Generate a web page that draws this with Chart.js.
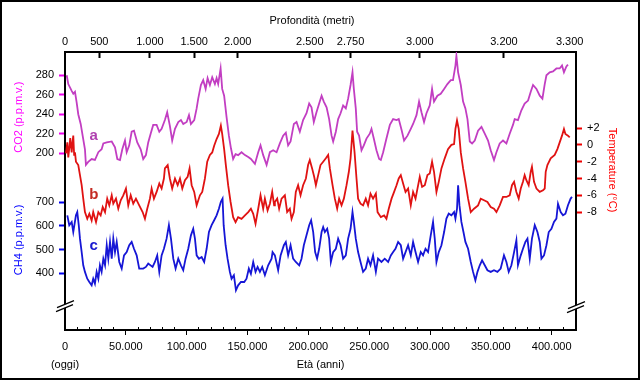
<!DOCTYPE html>
<html><head><meta charset="utf-8">
<script src="https://cdn.jsdelivr.net/npm/chart.js@4.4.1/dist/chart.umd.min.js"></script>
<style>html,body{margin:0;padding:0;background:#fff}canvas{display:block}</style>
</head><body>
<canvas id="c" width="640" height="380"></canvas>
<script>
// ---- DATA (ages in years before present) ----
const co2Age = [1400,2700,5500,6800,8200,9600,10900,12900,14500,16400,17200,19100,21900,24600,27400,30100,31500,34300,38400,41100,43000,45200,47100,49300,50700,52800,54800,56700,59400,62200,64300,66500,68400,70400,72500,75300,77500,79400,82100,84000,86200,88100,90400,93100,95300,97200,100000,101900,103500,106200,108200,109500,111700,113600,115600,117200,119100,121000,123200,124600,125900,127900,129200,130800,132800,134700,136400,138200,140200,142300,145100,147900,150600,152800,156100,158800,160700,162900,165700,168400,171100,173900,176600,179300,181500,183400,185400,188100,190300,193000,195700,198500,200700,202600,204500,206700,208900,210900,212700,215000,217100,219100,220400,222600,224500,226500,228600,230800,232700,234700,236300,237400,239000,240100,241700,243700,245600,247800,250500,251900,253800,256000,258200,259600,261500,264200,267000,269700,272500,274300,276600,278700,281500,284200,286100,288900,291000,293000,295100,297100,299800,301700,303300,306100,308800,311600,314300,317100,318900,320900,321700,323100,325300,327200,329100,330800,332700,334600,336800,339500,342300,345000,347700,349900,352600,354600,357300,360000,362800,365500,368200,369600,372300,375100,377800,380600,382800,384700,387500,390200,392400,394300,395700,398400,401100,403900,406600,408500,410100,412100,413400];
const co2Val = [280,271,264,261,263,252,240,230,218,204,188,191,194,193,201,204,210,211,212,206,194,193,204,213,201,208,222,223,211,204,194,198,211,220,229,229,222,225,234,242,228,213,225,232,234,230,232,239,230,234,246,256,270,275,266,277,270,278,271,277,271,287,266,259,237,218,205,194,199,198,201,198,196,194,189,201,208,198,188,201,203,201,210,218,221,208,212,230,232,222,234,241,251,247,232,242,251,259,253,247,235,218,212,222,235,241,249,246,256,270,283,266,246,222,218,203,208,215,220,225,215,203,194,193,201,215,229,235,234,235,224,213,218,225,230,239,253,242,232,241,249,266,253,259,261,266,271,275,275,290,300,283,270,253,246,235,212,210,213,223,227,220,213,203,193,201,210,213,210,220,229,235,234,244,251,254,263,270,266,259,256,271,280,283,284,287,287,290,283,289,291];

const tempAge = [800,1900,2700,3500,4300,5500,6100,6800,7500,8200,9000,10900,12300,13700,15000,16400,18300,20000,21900,23200,25500,27400,29300,31000,32900,34700,36400,38400,39700,41900,43800,45800,47900,50100,52000,54000,56100,58300,61000,63800,65700,67600,69800,71200,73100,75300,77500,79400,81300,82100,84400,86200,88100,90400,92600,94500,96400,98600,100800,102400,104100,106200,108200,110900,112800,115000,116900,119100,121000,122600,124600,126500,128100,129200,130800,132200,134100,136100,138200,140200,142300,145100,147900,150600,152800,154700,156600,158800,160700,162900,164300,166500,168400,170300,171900,172500,174400,176000,178000,180700,182600,184800,186200,188100,189700,191600,193600,195700,198000,199800,201200,203100,204800,206200,208100,210000,212200,214400,216300,217700,219900,221800,223700,225300,227300,229200,231400,233300,234700,236300,238000,239600,240900,242900,245000,247200,249100,251100,253200,255500,256900,259600,262300,264200,266100,268400,270500,272500,274300,276000,277900,279900,282000,284200,286100,288100,289700,291600,293500,295700,297900,299800,301700,303300,305300,307200,309400,312100,314800,317600,319800,320900,322200,323600,325300,327200,329100,331300,333500,336200,339500,341700,344400,347200,349900,352600,354600,357300,360000,362800,365500,367400,369100,371000,372900,374600,376400,377800,379200,381100,382800,383800,385500,387500,390200,392900,394300,395100,396500,399200,402500,404700,406600,408500,410100,411300,413400,414800];
const tempVal = [-1.0,0.3,-1.5,-0.4,0.8,-0.9,0.2,1.1,-1.2,-0.9,-2.0,-2.4,-3.6,-4.8,-6.4,-8.0,-8.8,-8.2,-9.0,-8.0,-9.2,-8.0,-8.4,-7.4,-8.0,-6.4,-7.2,-6.0,-7.0,-6.4,-7.6,-6.6,-6.0,-5.2,-7.2,-6.0,-7.0,-6.4,-7.2,-8.0,-8.8,-7.6,-6.4,-5.2,-6.4,-5.6,-4.6,-5.2,-4.0,-2.8,-2.4,-4.0,-5.2,-4.0,-4.8,-4.0,-5.2,-4.2,-3.8,-2.8,-4.8,-5.6,-7.2,-6.0,-5.6,-4.0,-2.0,-1.2,-0.9,-0.1,0.7,1.3,2.3,1.3,-0.5,-2.4,-4.8,-6.8,-8.6,-9.2,-8.6,-8.8,-8.4,-8.0,-7.6,-8.2,-9.4,-7.6,-6.0,-7.6,-6.4,-7.8,-7.0,-5.6,-7.2,-6.8,-6.4,-7.6,-6.4,-6.0,-8.0,-7.6,-8.8,-8.0,-5.6,-4.8,-6.0,-4.8,-4.0,-2.4,-1.8,-2.8,-3.8,-4.8,-3.6,-2.4,-2.0,-1.6,-1.2,-2.8,-4.8,-6.4,-7.6,-6.4,-7.2,-6.4,-4.8,-3.2,-1.6,1.7,-0.9,-4.0,-6.4,-7.0,-7.2,-6.4,-7.2,-5.8,-6.4,-5.8,-8.0,-8.6,-8.4,-8.8,-7.6,-6.4,-5.6,-4.8,-4.0,-3.6,-4.6,-5.6,-5.2,-7.2,-5.6,-6.4,-5.2,-3.8,-5.0,-4.8,-3.6,-3.4,-2.0,-3.2,-5.6,-4.4,-2.8,-1.6,-0.5,0.0,0.1,1.9,2.9,1.9,-0.9,-2.8,-4.4,-6.4,-8.0,-7.6,-7.2,-6.4,-6.6,-6.8,-7.4,-7.6,-8.0,-7.2,-6.2,-6.2,-6.0,-4.8,-4.4,-5.6,-6.4,-5.2,-4.4,-3.6,-4.2,-4.8,-3.2,-2.6,-4.4,-5.2,-5.6,-5.4,-5.2,-3.2,-2.4,-1.6,-1.2,-0.5,0.3,1.1,1.9,1.3,1.1,0.9];

const ch4Age = [1900,3500,5500,6800,9000,10100,11300,12300,13700,15000,16400,18300,20000,21900,23200,24600,26000,27400,28700,30100,31500,32900,34300,35600,37000,38400,39700,41100,42500,44600,46600,48500,50700,52800,54800,56700,58900,61000,64300,66500,68400,72000,73900,75800,77500,79400,81300,83500,85400,87100,89000,90900,93100,95300,97200,99100,101300,103500,105400,106800,108200,110100,112300,114400,116400,118300,120500,122600,124600,126500,128100,129500,130400,132000,133600,135500,136900,138800,140500,142300,144600,147300,149200,151100,152800,154700,156600,158300,160200,162100,164300,167000,169800,170600,172500,175200,177200,179900,181500,183400,185400,187500,189700,192500,194400,196300,198500,200700,202300,204000,205600,207200,208900,210900,212200,213600,215500,217100,218500,220400,222600,224500,226500,228600,230800,232700,234700,236300,237400,239000,240900,242900,245000,247200,249100,251100,253200,255500,257300,260100,262800,265600,267800,269700,271600,273800,276000,277900,279900,282000,284200,286100,288100,290200,292400,294300,296300,298400,300600,302500,303900,305300,307200,309400,311600,313500,315400,317600,319800,320900,322200,323100,324200,325800,327500,329100,331300,333500,335400,337300,339000,340900,342800,345000,347200,349900,352600,355400,358100,360800,362800,364700,366900,369100,371000,372300,374600,376400,378400,380100,382000,383800,386100,388300,390200,391600,393700,395700,397600,399800,401900,403900,405200,407400,409300,411300,413400,415600,416700];
const ch4Val = [645,603,617,574,645,659,603,546,489,433,405,376,362,348,376,355,405,376,433,405,461,433,518,461,532,461,546,489,532,447,419,475,489,518,532,503,475,419,419,426,440,426,447,475,405,475,503,546,603,546,461,419,461,433,412,461,503,560,588,546,475,461,468,447,503,574,603,624,645,673,702,716,603,518,461,405,376,391,327,348,362,362,376,419,397,447,405,426,405,426,391,433,461,489,475,412,475,518,532,475,518,461,447,433,461,518,560,603,624,574,489,461,503,574,595,574,588,546,447,489,503,546,518,461,475,546,588,659,617,546,489,447,405,419,461,433,475,405,461,447,461,447,475,489,503,532,518,461,489,518,475,532,489,447,489,475,503,489,560,617,546,447,489,518,574,631,652,645,659,631,673,772,688,617,574,532,503,447,405,369,405,433,454,433,412,405,412,405,419,475,447,405,433,489,539,433,475,503,532,546,461,546,603,574,532,461,475,518,574,588,617,631,694,659,645,652,688,716,723];

// ---- AXES / LABELS ----
const ageTicks = [0,50000,100000,150000,200000,250000,300000,350000,400000];
const ageMinorStep = 10000;
const depthLabels = ['0','500','1.000','1.500','2.000','2.500','2.750','3.000','3.200','3.300'];
const depthAges = [0,28200,69800,106200,141900,201200,234700,291600,360800,414800];
const co2Ticks = [200,220,240,260,280];
const ch4Ticks = [400,500,600,700];
const tempTicks = [2,0,-2,-4,-6,-8];
const seriesLetters = ['a','b','c'];
const letterAge = [23600,23600,23600];
const letterVal = [214,-6.47,497];

const FONT = '"Liberation Sans", Arial, sans-serif';
const fmtAge = v => String(v).replace(/\B(?=(\d{3})+(?!\d))/g, '.');
const pts = (a, v) => a.map((t, i) => ({x: t, y: v[i]}));
const minorTicks = [];
for (let v = ageMinorStep; v < 420000; v += ageMinorStep) if (v % 50000 !== 0) minorTicks.push(v);

function vtext(ctx, txt, x, y, rot, color) {
  ctx.save();
  ctx.translate(x, y); ctx.rotate(rot);
  ctx.fillStyle = color; ctx.textAlign = 'center'; ctx.textBaseline = 'middle';
  ctx.font = '11px ' + FONT;
  ctx.fillText(txt, 0, 0);
  ctx.restore();
}
function brk(ctx, cx, cy) {
  ctx.save();
  ctx.beginPath();
  ctx.moveTo(cx - 8, cy + 2); ctx.lineTo(cx + 9, cy - 5); ctx.lineTo(cx + 8, cy - 1); ctx.lineTo(cx - 9, cy + 6); ctx.closePath();
  ctx.fillStyle = '#fff'; ctx.fill();
  ctx.strokeStyle = '#000'; ctx.lineWidth = 1.2;
  ctx.beginPath();
  ctx.moveTo(cx - 8, cy + 2); ctx.lineTo(cx + 9, cy - 5);
  ctx.moveTo(cx - 9, cy + 6); ctx.lineTo(cx + 8, cy - 1);
  ctx.stroke();
  ctx.restore();
}

const decor = {
  id: 'decor',
  afterLayout(chart) {
    // the CH4 axis shares the left margin with the CO2 axis: widen its label area
    const s = chart.scales.yCH4;
    s.left = 0;
  },
  beforeDraw(chart) {
    const ctx = chart.ctx; ctx.save(); ctx.fillStyle = '#fff'; ctx.fillRect(0, 0, chart.width, chart.height); ctx.restore();
  },
  afterDraw(chart) {
    const ctx = chart.ctx; const s = chart.scales; const ca = chart.chartArea;
    ctx.save();
    const by = s.yCH4.getPixelForValue(262);
    brk(ctx, ca.left, by);
    brk(ctx, ca.right, by + 1);
    ctx.font = '11px ' + FONT; ctx.fillStyle = '#000';
    ctx.textAlign = 'center'; ctx.textBaseline = 'alphabetic';
    ctx.fillText('Profondità (metri)', 312, 24);
    ctx.textBaseline = 'middle';
    ctx.fillText('(oggi)', s.x.getPixelForValue(0), 365);
    vtext(ctx, 'CO2 (p.p.m.v.)', 19, s.yCO2.getPixelForValue(237), -Math.PI / 2, '#ff00ff');
    vtext(ctx, 'CH4 (p.p.m.v.)', 19, s.yCH4.getPixelForValue(541), -Math.PI / 2, '#0000ff');
    vtext(ctx, 'Temperature (°C)', 612, s.yTemp.getPixelForValue(-3), Math.PI / 2, '#ff0000');
    ctx.font = 'bold 15px ' + FONT; ctx.textBaseline = 'alphabetic'; ctx.textAlign = 'center';
    const yS = [s.yCO2, s.yTemp, s.yCH4];
    const lc = ['#b040b0', '#c42a22', '#1a1ad0'];
    seriesLetters.forEach((t, i) => {
      ctx.fillStyle = lc[i];
      ctx.fillText(t, s.x.getPixelForValue(letterAge[i]), yS[i].getPixelForValue(letterVal[i]));
    });
    ctx.strokeStyle = '#000'; ctx.lineWidth = 2; ctx.strokeRect(1, 1, chart.width - 2, chart.height - 2);
    ctx.restore();
  }
};

const tickFont = {family: FONT, size: 11};
const lineDs = (label, a, v, yId, color) => ({
  label, data: pts(a, v), xAxisID: 'x', yAxisID: yId, borderColor: color, borderWidth: 1.8,
  pointRadius: 0, tension: 0, fill: false
});

new Chart(document.getElementById('c'), {
  type: 'line',
  data: {
    datasets: [
      lineDs('CO2', co2Age, co2Val, 'yCO2', '#c23ec2'),
      lineDs('Temperatura', tempAge, tempVal, 'yTemp', '#e01212'),
      lineDs('CH4', ch4Age, ch4Val, 'yCH4', '#1616d6')
    ]
  },
  options: {
    responsive: false, animation: false, devicePixelRatio: 1,
    layout: {padding: 0, autoPadding: false},
    plugins: {legend: {display: false}, tooltip: {enabled: false}},
    scales: {
      x: {
        type: 'linear', position: 'bottom', weight: 5, min: 0, max: 420000,
        afterBuildTicks: sc => { sc.ticks = ageTicks.map(v => ({value: v})); },
        afterFit: sc => { sc.height = 50; },
        ticks: {callback: v => fmtAge(v), color: '#000', font: tickFont, padding: 5, maxRotation: 0, autoSkip: false},
        grid: {drawOnChartArea: false, drawTicks: true, tickLength: 5, color: '#000', tickWidth: 1,
               tickColor: c => c.index === 0 ? 'rgba(0,0,0,0)' : '#000'},
        border: {display: true, color: '#000', width: 2},
        title: {display: true, text: 'Età (anni)', color: '#000', font: tickFont, padding: {top: 0, bottom: 8}}
      },
      xMinor: {
        type: 'linear', position: 'bottom', weight: 0, min: 0, max: 420000,
        afterBuildTicks: sc => { sc.ticks = minorTicks.map(v => ({value: v})); },
        afterFit: sc => { sc.height = 0; },
        ticks: {display: false},
        grid: {drawOnChartArea: false, drawTicks: true, tickLength: -3, color: '#000', tickWidth: 1},
        border: {display: false}
      },
      xTop: {
        type: 'linear', position: 'top', min: 0, max: 420000,
        afterBuildTicks: sc => { sc.ticks = depthAges.map(v => ({value: v})); },
        afterFit: sc => { sc.height = 52; },
        ticks: {callback: (v, i) => depthLabels[i], color: '#000', font: tickFont, padding: 9, maxRotation: 0, autoSkip: false},
        grid: {drawOnChartArea: false, drawTicks: true, tickLength: -6, tickWidth: 2,
               tickColor: c => (c.index === 0 || c.index === depthAges.length - 1) ? 'rgba(0,0,0,0)' : '#000'},
        border: {display: true, color: '#000', width: 2}
      },
      yCO2: {
        type: 'linear', position: 'left', weight: 5, min: 18.4, max: 303.9,
        afterBuildTicks: sc => { sc.ticks = co2Ticks.map(v => ({value: v})); },
        afterFit: sc => { sc.width = 65; },
        ticks: {color: '#000', font: tickFont, padding: 5},
        grid: {drawOnChartArea: false, drawTicks: true, tickLength: 6, tickWidth: 2, tickColor: '#ee00ee'},
        border: {display: true, color: '#000', width: 2}
      },
      yCH4: {
        type: 'linear', position: 'left', weight: 0, min: 158.4, max: 1337.9,
        afterBuildTicks: sc => { sc.ticks = ch4Ticks.map(v => ({value: v})); },
        afterFit: sc => { sc.width = 0; },
        ticks: {color: '#000', font: tickFont, padding: 5},
        grid: {drawOnChartArea: false, drawTicks: true, tickLength: 6, tickWidth: 2, tickColor: '#0000ee'},
        border: {display: false}
      },
      yTemp: {
        type: 'linear', position: 'right', min: -22.04, max: 11.06,
        afterBuildTicks: sc => { sc.ticks = tempTicks.map(v => ({value: v})); },
        afterFit: sc => { sc.width = 64; },
        ticks: {color: '#000', font: tickFont, padding: 5, callback: v => v > 0 ? '+' + v : String(v)},
        grid: {drawOnChartArea: false, drawTicks: true, tickLength: 6, tickWidth: 2, tickColor: '#ee0000'},
        border: {display: true, color: '#000', width: 2}
      }
    }
  },
  plugins: [decor]
});
</script>
</body></html>
